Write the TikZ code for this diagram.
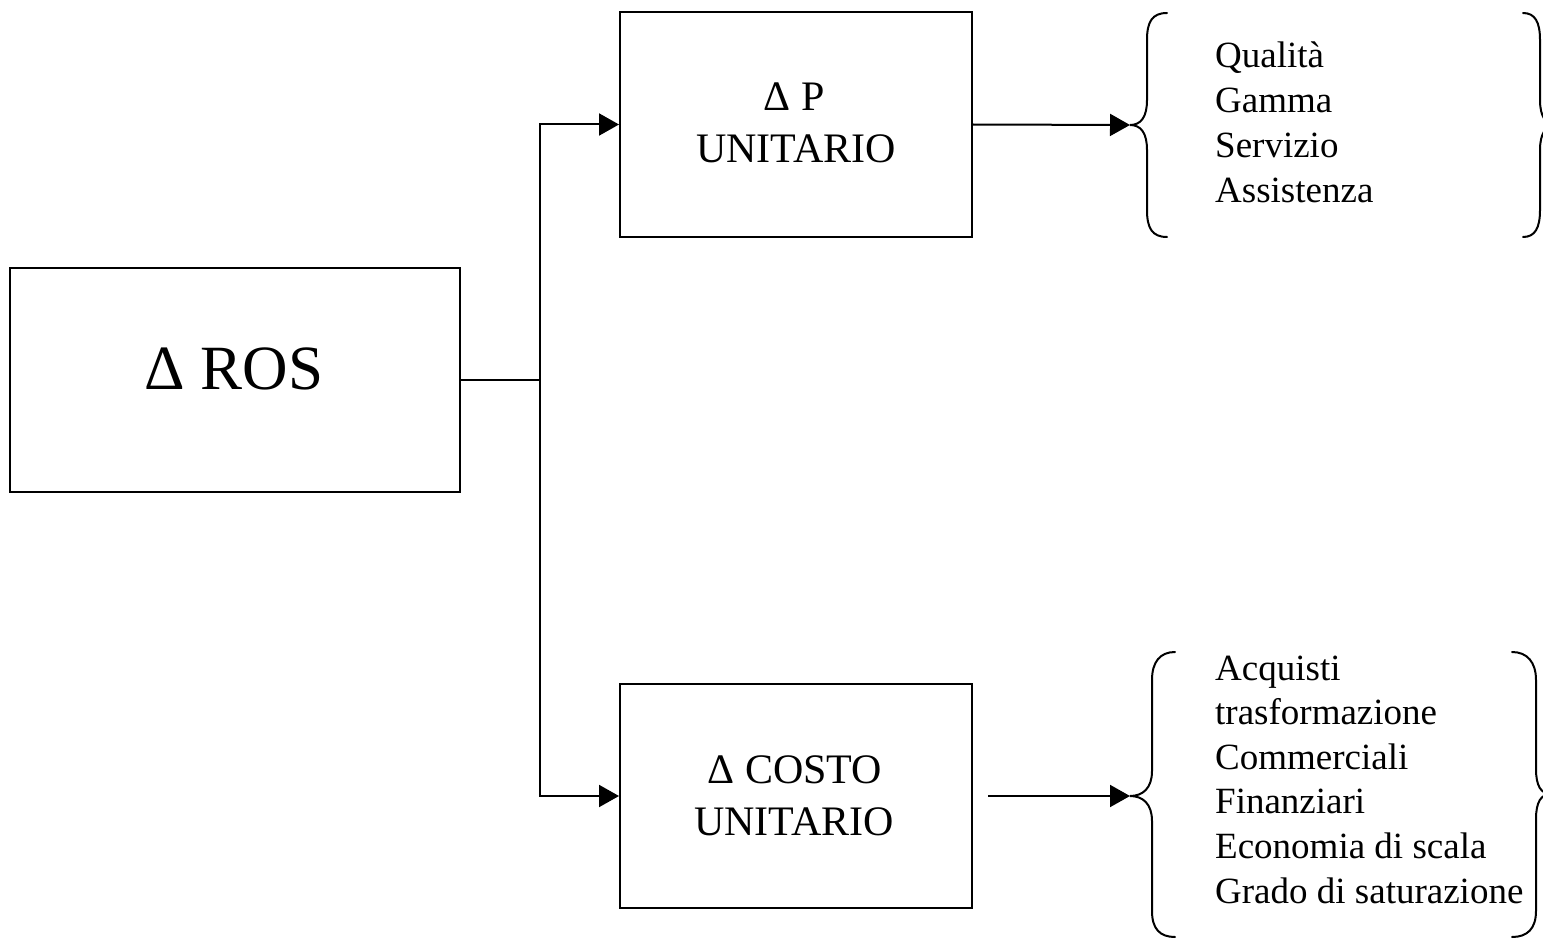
\documentclass[tikz,border=0pt]{standalone}
\usepackage{fontspec}
\setmainfont{Liberation Serif}
\usetikzlibrary{arrows.meta}
\begin{document}
\begin{tikzpicture}[x=1pt,y=-1pt,
  box/.style={draw,line width=2pt,rectangle,inner sep=0pt},
  conn/.style={line width=2pt},
  arr/.style={line width=2pt,-{Triangle[length=20pt,width=22pt]}},
  brace/.style={line width=2pt,line cap=round},
  boxtext/.style={anchor=base,inner sep=0pt,font=\fontsize{42}{50}\selectfont},
  listtext/.style={anchor=base west,inner sep=0pt,font=\fontsize{37}{44}\selectfont}]
\useasboundingbox (0,0) rectangle (1543,939);

% main boxes
\node[box,minimum width=450pt,minimum height=224pt] (ros) at (235,380) {};
\node[box,minimum width=352pt,minimum height=224pt] (pbox) at (796,124.5) {};
\node[box,minimum width=352pt,minimum height=224pt] (cbox) at (796,796) {};

% box labels
\node[anchor=base,inner sep=0pt,font=\fontsize{63}{75}\selectfont] (rostxt) at (234,389) {Δ ROS};
\node[boxtext] (ptxt1) at (794,111) {Δ P};
\node[boxtext] (ptxt2) at (796,163) {UNITARIO};
\node[boxtext] (ctxt1) at (795,783) {Δ COSTO};
\node[boxtext] (ctxt2) at (794,835) {UNITARIO};

% branching connectors
\coordinate (jn) at (540,380);
\draw[conn] (ros.east) -- (jn);
\draw[arr] (jn) |- (pbox.west);
\draw[arr] (jn) |- (cbox.west);

% braces around the factor lists
\coordinate (ptip) at (1130,125);
\coordinate (ctip) at (1130,796);
\draw[brace] (1167,13) .. controls (1152,13) and (1147,22) .. (1147,40) -- (1147,100)
  .. controls (1147,117) and (1141,125) .. (ptip)
  .. controls (1141,125) and (1147,133) .. (1147,150) -- (1147,210)
  .. controls (1147,228) and (1152,237) .. (1167,237);
\draw[brace] (1523,13) .. controls (1535,13) and (1540,22) .. (1540,40) -- (1540,100)
  .. controls (1540,117) and (1546,125) .. (1556,125)
  .. controls (1546,125) and (1540,133) .. (1540,150) -- (1540,210)
  .. controls (1540,228) and (1535,237) .. (1523,237);
\draw[brace] (1175,652) .. controls (1160,652) and (1152,662) .. (1152,680) -- (1152,771)
  .. controls (1152,788) and (1143,796) .. (ctip)
  .. controls (1143,796) and (1152,804) .. (1152,821) -- (1152,911)
  .. controls (1152,929) and (1160,937) .. (1175,937);
\draw[brace] (1512,652) .. controls (1527,652) and (1536,662) .. (1536,680) -- (1536,769)
  .. controls (1536,786) and (1541,794) .. (1551,794)
  .. controls (1541,794) and (1536,802) .. (1536,819) -- (1536,911)
  .. controls (1536,929) and (1527,937) .. (1512,937);

% arrows into the braces
\coordinate (cstart) at (988,796);
\draw[arr] (pbox.east) -- (ptip);
\draw[arr] (cstart) -- (ctip);

% factor lists
\node[listtext] (q1) at (1215,68) {Qualità};
\node[listtext] (q2) at (1215,112.7) {Gamma};
\node[listtext] (q3) at (1215,157.3) {Servizio};
\node[listtext] (q4) at (1215,202) {Assistenza};

\node[listtext] (c1) at (1215,680) {Acquisti};
\node[listtext] (c2) at (1215,724.6) {trasformazione};
\node[listtext] (c3) at (1215,769.2) {Commerciali};
\node[listtext] (c4) at (1215,813.8) {Finanziari};
\node[listtext] (c5) at (1215,858.4) {Economia di scala};
\node[listtext] (c6) at (1215,903) {Grado di saturazione};
\end{tikzpicture}
\end{document}
